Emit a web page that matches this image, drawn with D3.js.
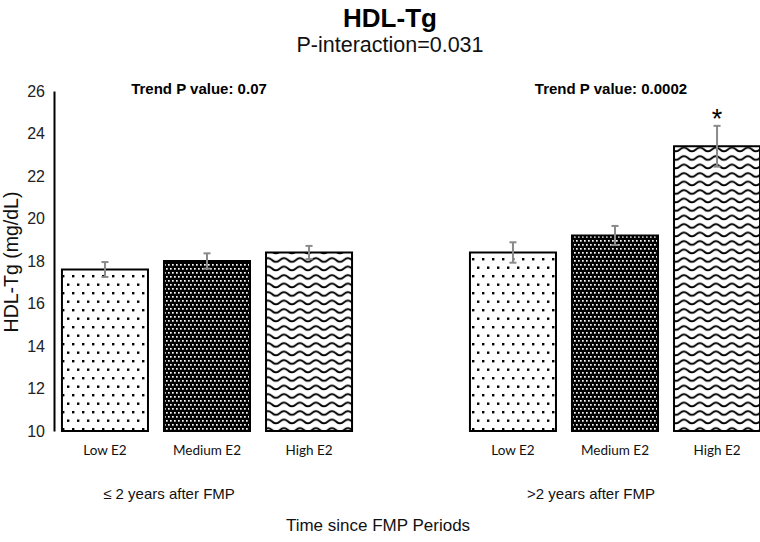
<!DOCTYPE html>
<html>
<head>
<meta charset="utf-8">
<script src="https://cdn.jsdelivr.net/npm/d3@7"></script>
<style>
  body { margin: 0; background: #fff; }
  svg { display: block; }
</style>
</head>
<body>
<div id="chart"></div>
<script>
// data
const periods = ["\u2264 2 years after FMP", ">2 years after FMP"];
const levels = ["Low E2", "Medium E2", "High E2"];
const meansEarly = [17.6, 18.0, 18.4];
const meansLate = [18.4, 19.2, 23.4];
const errEarly = [0.35, 0.36, 0.31];
const errLate = [0.48, 0.45, 0.96];
const trendLabels = ["Trend P value: 0.07", "Trend P value: 0.0002"];
const starred = [[false, false, false], [false, false, true]];
const yTicks = [10, 12, 14, 16, 18, 20, 22, 24, 26];

const width = 760, height = 542;
const font = "Liberation Sans, Arial, Helvetica, sans-serif";

const rows = [];
[meansEarly, meansLate].forEach((arr, gi) => {
  arr.forEach((v, li) => {
    rows.push({
      period: periods[gi],
      level: levels[li],
      value: v,
      err: [errEarly, errLate][gi][li],
      star: starred[gi][li],
    });
  });
});

const svg = d3.select("#chart").append("svg")
  .attr("width", width)
  .attr("height", height);

// fill patterns
const defs = svg.append("defs");
const dots = defs.append("pattern")
  .attr("id", "p-low").attr("patternUnits", "userSpaceOnUse")
  .attr("width", 10).attr("height", 17);
dots.append("rect").attr("width", 10).attr("height", 17).attr("fill", "#fff");
dots.append("rect").attr("x", 2).attr("y", 3).attr("width", 2.4).attr("height", 2.4).attr("fill", "#000");
dots.append("rect").attr("x", 7).attr("y", 11.5).attr("width", 2.4).attr("height", 2.4).attr("fill", "#000");

const dark = defs.append("pattern")
  .attr("id", "p-med").attr("patternUnits", "userSpaceOnUse")
  .attr("width", 4).attr("height", 8);
dark.append("rect").attr("width", 4).attr("height", 8).attr("fill", "#000");
dark.append("rect").attr("x", 0).attr("y", 0).attr("width", 1.7).attr("height", 1.7).attr("fill", "#fff");
dark.append("rect").attr("x", 2).attr("y", 4).attr("width", 1.7).attr("height", 1.7).attr("fill", "#fff");

const wave = defs.append("pattern")
  .attr("id", "p-high").attr("patternUnits", "userSpaceOnUse")
  .attr("width", 16).attr("height", 8.5);
wave.append("rect").attr("width", 16).attr("height", 8.5).attr("fill", "#fff");
wave.append("path")
  .attr("d", "M-8,5 Q-4,1.2 0,5 T8,5 T16,5 T24,5")
  .attr("fill", "none").attr("stroke", "#000").attr("stroke-width", 1.9);

const fills = { "Low E2": "url(#p-low)", "Medium E2": "url(#p-med)", "High E2": "url(#p-high)" };

// scales
const x0 = d3.scaleBand()
  .domain(periods)
  .range([54, 768])
  .paddingInner(0.25)
  .paddingOuter(0);

const x1 = d3.scaleBand()
  .domain(levels)
  .range([0, x0.bandwidth()])
  .paddingInner(0.157)
  .paddingOuter(0.078);

const y = d3.scaleLinear()
  .domain([10, 26])
  .range([431, 91]);

// y axis
const yAxis = svg.append("g")
  .attr("transform", "translate(54,0)")
  .call(d3.axisLeft(y).tickValues(yTicks).tickSize(0).tickPadding(9));
yAxis.select(".domain").attr("stroke", "#000").attr("stroke-width", 2);
yAxis.selectAll("text")
  .style("font-family", font)
  .style("font-size", "16px")
  .attr("fill", "#222");

svg.append("text")
  .attr("transform", `translate(18,${(y(10) + y(26)) / 2 + 1}) rotate(-90)`)
  .attr("text-anchor", "middle")
  .style("font-family", font)
  .style("font-size", "19.5px")
  .attr("fill", "#111")
  .text("HDL-Tg (mg/dL)");

// bars
const bx = (d) => x0(d.period) + x1(d.level);
const bc = (d) => bx(d) + x1.bandwidth() / 2;

svg.append("g")
  .selectAll("rect")
  .data(rows)
  .join("rect")
  .attr("x", bx)
  .attr("y", (d) => y(d.value))
  .attr("width", x1.bandwidth())
  .attr("height", (d) => y(10) - y(d.value))
  .attr("fill", (d) => fills[d.level])
  .attr("stroke", "#000")
  .attr("stroke-width", 2);

// error bars
const eb = svg.append("g")
  .attr("stroke", "#8a8a8a")
  .attr("stroke-width", 2);
eb.selectAll(".v")
  .data(rows)
  .join("line")
  .attr("x1", bc).attr("x2", bc)
  .attr("y1", (d) => y(d.value + d.err))
  .attr("y2", (d) => y(d.value - d.err));
eb.selectAll(".t")
  .data(rows)
  .join("line")
  .attr("x1", (d) => bc(d) - 3.5).attr("x2", (d) => bc(d) + 3.5)
  .attr("y1", (d) => y(d.value + d.err))
  .attr("y2", (d) => y(d.value + d.err));
eb.selectAll(".b")
  .data(rows)
  .join("line")
  .attr("x1", (d) => bc(d) - 3.5).attr("x2", (d) => bc(d) + 3.5)
  .attr("y1", (d) => y(d.value - d.err))
  .attr("y2", (d) => y(d.value - d.err));

svg.append("g")
  .selectAll("text")
  .data(rows.filter((d) => d.star))
  .join("text")
  .attr("x", bc)
  .attr("y", (d) => y(d.value + d.err) + 2)
  .attr("text-anchor", "middle")
  .style("font-family", font)
  .style("font-size", "27px")
  .text("*");

// category labels
svg.append("g")
  .selectAll("text")
  .data(rows)
  .join("text")
  .attr("x", bc)
  .attr("y", 455)
  .attr("text-anchor", "middle")
  .style("font-family", "Lato, 'Open Sans', sans-serif")
  .style("font-size", "13.5px")
  .attr("fill", "#111")
  .text((d) => d.level);

// period labels and trend labels
const periodDx = [-38, -24];
svg.append("g")
  .selectAll("text")
  .data(periods)
  .join("text")
  .attr("x", (d, i) => x0(d) + x0.bandwidth() / 2 + periodDx[i])
  .attr("y", 499)
  .attr("text-anchor", "middle")
  .style("font-family", font)
  .style("font-size", "15px")
  .attr("fill", "#111")
  .text((d) => d);

const trendDx = [-8, -4];
svg.append("g")
  .selectAll("text")
  .data(periods)
  .join("text")
  .attr("x", (d, i) => x0(d) + x0.bandwidth() / 2 + trendDx[i])
  .attr("y", 94)
  .attr("text-anchor", "middle")
  .style("font-family", font)
  .style("font-size", "15px")
  .style("font-weight", "bold")
  .text((d, i) => trendLabels[i]);

svg.append("text")
  .attr("x", 378)
  .attr("y", 531)
  .attr("text-anchor", "middle")
  .style("font-family", font)
  .style("font-size", "17px")
  .attr("fill", "#111")
  .text("Time since FMP Periods");

// titles
svg.append("text")
  .attr("x", 390)
  .attr("y", 27)
  .attr("text-anchor", "middle")
  .style("font-family", font)
  .style("font-size", "26px")
  .style("font-weight", "bold")
  .text("HDL-Tg");

svg.append("text")
  .attr("x", 390)
  .attr("y", 52)
  .attr("text-anchor", "middle")
  .style("font-family", font)
  .style("font-size", "21.5px")
  .attr("fill", "#111")
  .text("P-interaction=0.031");
</script>
</body>
</html>
